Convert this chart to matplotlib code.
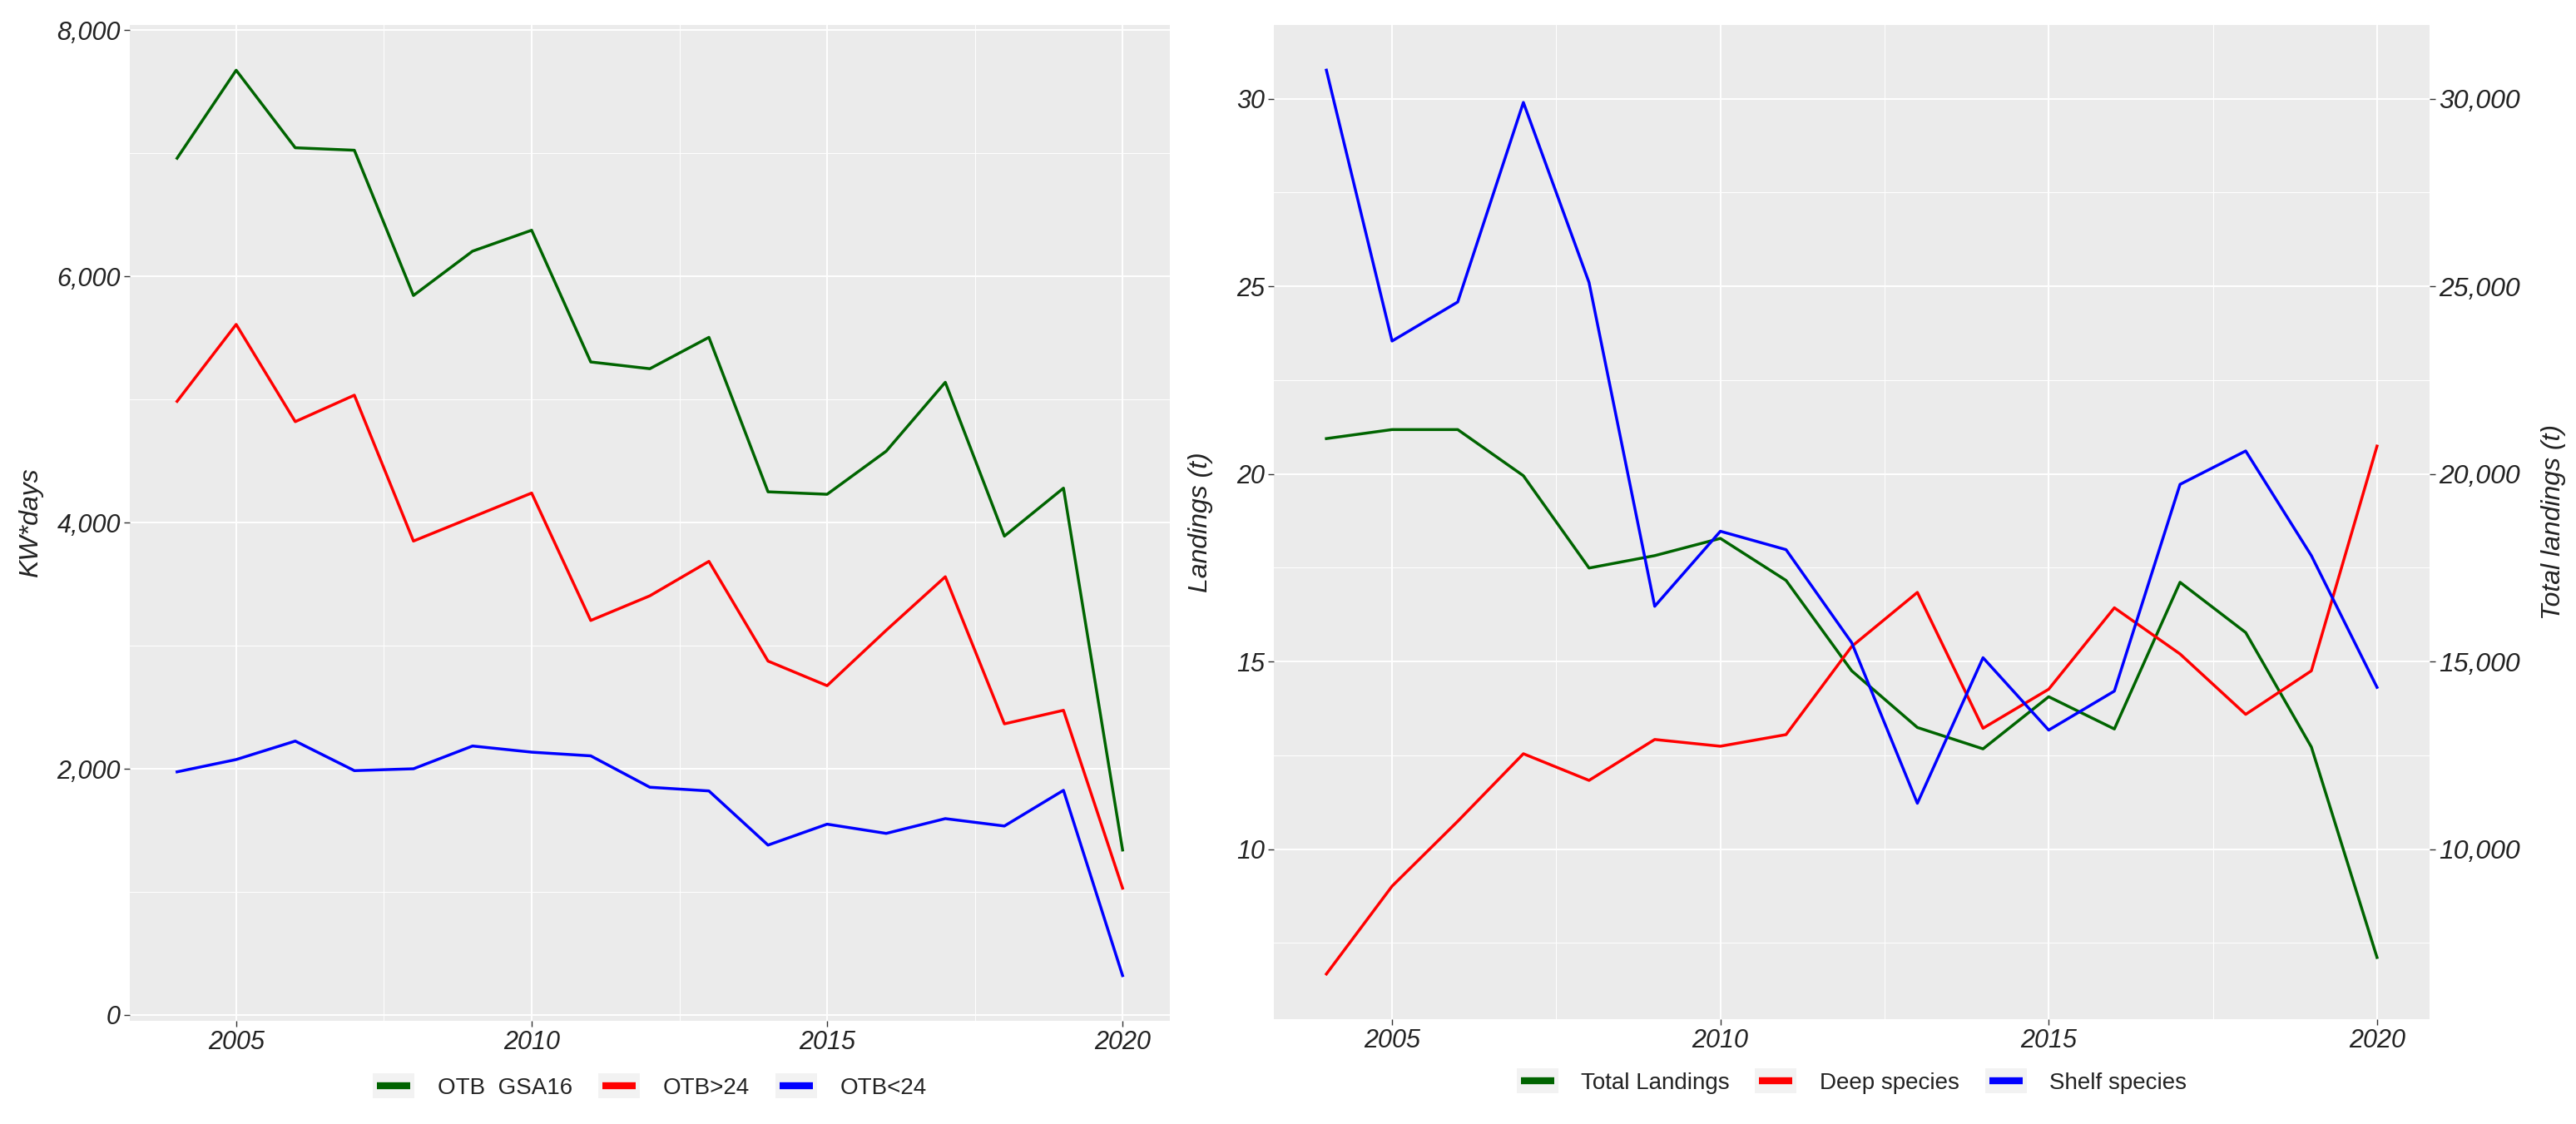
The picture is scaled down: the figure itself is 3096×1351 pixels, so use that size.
import matplotlib
matplotlib.use("Agg")
import matplotlib.pyplot as plt
from matplotlib.ticker import FuncFormatter, MultipleLocator
from matplotlib.legend_handler import HandlerLine2D
from matplotlib.patches import Rectangle
from matplotlib.lines import Line2D

plt.rcParams['font.family'] = ['Liberation Sans', 'DejaVu Sans']

years = list(range(2004, 2021))

# left panel: fishing effort (KW*days)
otb_gsa16 = [6960, 7675, 7045, 7025, 5845, 6205, 6375, 5305, 5250, 5505,
             4250, 4230, 4580, 5140, 3890, 4280, 1340]
otb_over24 = [4985, 5610, 4820, 5035, 3850, 4045, 4240, 3205, 3405, 3685,
              2875, 2675, 3125, 3560, 2365, 2475, 1030]
otb_under24 = [1975, 2075, 2225, 1985, 2000, 2185, 2135, 2105, 1850, 1820,
               1380, 1550, 1475, 1595, 1535, 1825, 320]
effort_labels = ['OTB  GSA16', 'OTB>24', 'OTB<24']

# right panel: landings (t)
total_landings = [20.94, 21.18, 21.18, 19.95, 17.49, 17.82, 18.28, 17.16, 14.75,
                  13.24, 12.67, 14.06, 13.20, 17.11, 15.77, 12.72, 7.11]
deep_species = [6.67, 9.01, 10.74, 12.54, 11.83, 12.92, 12.74, 13.05, 15.40,
                16.84, 13.22, 14.26, 16.43, 15.20, 13.59, 14.75, 20.74]
shelf_species = [30.76, 23.54, 24.58, 29.90, 25.10, 16.47, 18.47, 17.98, 15.50,
                 11.22, 15.10, 13.17, 14.21, 19.72, 20.61, 17.82, 14.31]
landing_labels = ['Total Landings', 'Deep species', 'Shelf species']

colors = ['#006400', '#FF0000', '#0000FF']
BG = '#EBEBEB'
TXT = '#222222'


class KeyHandler(HandlerLine2D):
    # ggplot style legend key: grey square with a thick line
    def create_artists(self, legend, orig_handle, xdescent, ydescent,
                       width, height, fontsize, trans):
        bg = Rectangle((-xdescent, -ydescent - height * 0.15), width, height * 1.3,
                       facecolor='#F2F2F2', edgecolor='none', transform=trans)
        y = -ydescent + height / 2
        ln = Line2D([-xdescent + width * 0.1, -xdescent + width * 0.9], [y, y],
                    color=orig_handle.get_color(), lw=6, transform=trans,
                    solid_capstyle='butt')
        return [bg, ln]


def style_axes(ax):
    ax.set_facecolor(BG)
    for s in ax.spines.values():
        s.set_visible(False)
    ax.grid(which='major', color='white', lw=1.4)
    ax.grid(which='minor', color='white', lw=0.7)
    ax.set_axisbelow(True)
    ax.tick_params(which='major', length=5, width=1, color='#333333',
                   labelsize=22, labelcolor=TXT, pad=3)
    ax.tick_params(which='minor', length=0)
    for lab in ax.get_xticklabels() + ax.get_yticklabels():
        lab.set_fontstyle('italic')
    ax.set_xticks([2005, 2010, 2015, 2020])
    ax.xaxis.set_minor_locator(MultipleLocator(2.5))
    ax.margins(x=0.05, y=0.05)


def add_legend(ax, handles, labels, y):
    leg = ax.legend(handles, labels, loc='center', bbox_to_anchor=(0.5, y),
                    ncol=3, frameon=False, fontsize=20, handlelength=1.8,
                    handleheight=0.9, handletextpad=1.0, columnspacing=1.1,
                    handler_map={Line2D: KeyHandler()})
    for t in leg.get_texts():
        t.set_color(TXT)


fig = plt.figure(figsize=(30.96, 13.51), dpi=100)

# left panel
ax1 = fig.add_axes([156 / 3096, 1 - 1227 / 1351, 1250 / 3096, 1197 / 1351])
h1 = []
for vals, c in zip([otb_gsa16, otb_over24, otb_under24], colors):
    h1.append(ax1.plot(years, vals, color=c, lw=2.5)[0])
ax1.set_yticks([0, 2000, 4000, 6000, 8000])
ax1.yaxis.set_minor_locator(MultipleLocator(1000))
ax1.yaxis.set_major_formatter(FuncFormatter(lambda v, p: f'{v:,.0f}'))
style_axes(ax1)
ax1.set_ylabel('KW*days', fontsize=23, fontstyle='italic', color=TXT, labelpad=12)
add_legend(ax1, h1, effort_labels, -0.067)

# right panel
ax2 = fig.add_axes([1531 / 3096, 1 - 1225 / 1351, 1389 / 3096, 1195 / 1351])
h2 = []
for vals, c in zip([total_landings, deep_species, shelf_species], colors):
    h2.append(ax2.plot(years, vals, color=c, lw=2.5)[0])
ax2.set_yticks([10, 15, 20, 25, 30])
ax2.yaxis.set_minor_locator(MultipleLocator(2.5))
style_axes(ax2)
ax2.set_ylabel('Landings (t)', fontsize=23, fontstyle='italic', color=TXT, labelpad=20)
add_legend(ax2, h2, landing_labels, -0.064)

# secondary axis: same scale in tonnes x 1000
lo, hi = ax2.get_ylim()
ax3 = ax2.twinx()
ax3.set_ylim(lo * 1000, hi * 1000)
ax3.set_yticks([10000, 15000, 20000, 25000, 30000])
ax3.yaxis.set_major_formatter(FuncFormatter(lambda v, p: f'{v:,.0f}'))
for s in ax3.spines.values():
    s.set_visible(False)
ax3.tick_params(length=5, width=1, color='#333333', labelsize=23,
                labelcolor=TXT, pad=3)
for lab in ax3.get_yticklabels():
    lab.set_fontstyle('italic')
ax3.set_ylabel('Total landings (t)', fontsize=23, fontstyle='italic',
               color=TXT, labelpad=18)

fig.savefig('out.png', dpi=100, facecolor='white')
